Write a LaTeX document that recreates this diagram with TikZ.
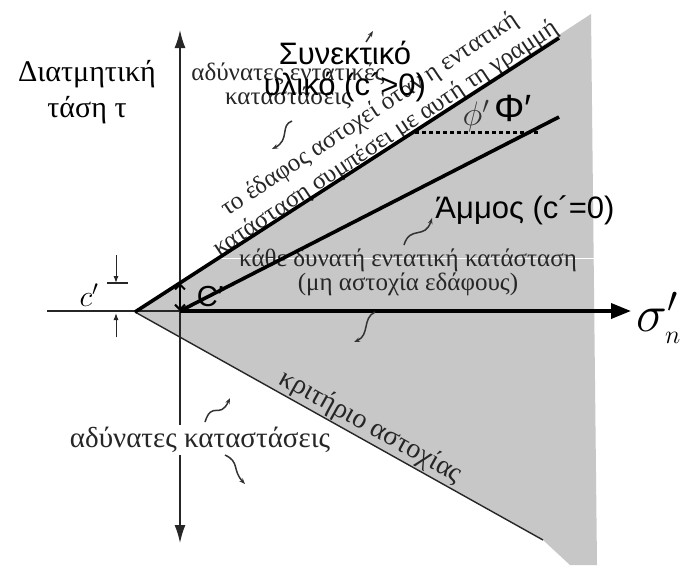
\RequirePackage{fix-cm}
\documentclass[tikz,border=0pt]{standalone}
\usepackage{fontspec}
\setmainfont{Liberation Serif}
\setsansfont{Liberation Sans}
\usetikzlibrary{arrows.meta, calc, positioning}

\begin{document}
\begin{tikzpicture}[
    x=1pt, y=-1pt,
    scan/.style={text=black!85, font=\fontsize{25}{24}\selectfont, inner sep=0pt, align=center},
    marklabel/.style={font=\sffamily\fontsize{31}{31}\selectfont, inner sep=0pt, align=center},
    heavy/.style={line width=3.6pt},
    axisline/.style={black!85, line width=1.6pt},
    pointer/.style={black!80, line width=1.5pt, -{Stealth[length=6pt, width=4.5pt]}}
]
    \useasboundingbox (0,0) rectangle (687,565);
    \fill[white] (0,0) rectangle (687,565);

    % --- Points ---
    \coordinate (apex) at (135,312);
    \coordinate (origin) at (180,311);
    \coordinate (ctop) at (180,283);
    \coordinate (ytop) at (180,30);
    \coordinate (ybot) at (180,543);
    \coordinate (xleft) at (47,311);
    \coordinate (xright) at (631,311);
    \coordinate (cohend) at (559,38);
    \coordinate (sandend) at (559,117);
    \coordinate (critend) at (543,540);

    % --- Region of possible states ---
    \fill[black!22] (apex) -- (591,14) -- (597,565) -- (570,565) -- (critend) -- cycle;
    \draw[white, line width=1pt] (180,258) -- (596,258);

    % --- Axes ---
    \draw[axisline, {Latex[length=18pt, width=11pt]}-{Latex[length=18pt, width=11pt]}] (ybot) -- (ytop);
    \draw[axisline] (xleft) -- (origin);
    \draw[heavy, -{Triangle[length=20pt, width=15pt]}] (origin) -- (xright);
    \node[anchor=west, inner sep=0pt, font=\fontsize{52}{52}\selectfont] (sigma) at (636,318) {$\sigma'_{\scriptscriptstyle n}$};

    \node[font=\fontsize{30}{36}\selectfont, align=center] (taulabel) at (87,92) {Διατμητική\\τάση τ};

    % --- Failure criterion (scan) ---
    \draw[black!85, line width=1.4pt] (apex) -- (critend)
        node[pos=0.56, sloped, above=1pt, scan, font=\fontsize{28}{28}\selectfont] (critlabel) {κριτήριο αστοχίας};
    \node[scan, font=\fontsize{25}{29}\selectfont, rotate=33.5] (failtext) at (378,127) {το έδαφος αστοχεί όταν η εντατική\\κατάσταση συμπέσει με αυτή τη γραμμή};
    \node[scan] (upperstates) at (288,86) {αδύνατες εντατικές\\καταστάσεις};
    \node[scan] (possible) at (408,272) {κάθε δυνατή εντατική κατάσταση\\(μη αστοχία εδάφους)};
    \node[scan, font=\fontsize{29}{29}\selectfont, fill=white, inner sep=2pt] (lowerstates) at (200,440) {αδύνατες καταστάσεις};
    \node[text=black!80, font=\fontsize{34}{34}\selectfont] (phiscan) at (476,116) {$\phi'$};

    % --- Pointers ---
    \coordinate (pa1) at (292,121); \coordinate (pa2) at (272,149);
    \coordinate (pb1) at (205,422); \coordinate (pb2) at (230,398);
    \coordinate (pc1) at (225,455); \coordinate (pc2) at (245,484);
    \coordinate (pd1) at (375,312); \coordinate (pd2) at (354,342);
    \coordinate (pe1) at (404,245); \coordinate (pe2) at (432,218);
    \coordinate (pf1) at (366,42);  \coordinate (pf2) at (373,31);
    \draw[pointer] (pa1) .. controls (280,125) and (290,140) .. (pa2);
    \draw[pointer] (pb1) .. controls (212,400) and (220,420) .. (pb2);
    \draw[pointer] (pc1) .. controls (240,462) and (232,470) .. (pc2);
    \draw[pointer] (pd1) .. controls (362,318) and (370,335) .. (pd2);
    \draw[pointer] (pe1) .. controls (410,225) and (425,240) .. (pe2);
    \draw[pointer] (pf1) -- (pf2);

    % --- c' dimension ---
    \coordinate (cdtop) at (116,255);
    \coordinate (cdtick) at (116,283);
    \coordinate (cdbot) at (116,337);
    \coordinate (cdaxis) at (116,313);
    \draw[black!85, line width=1.2pt] (107,283) -- (128,283);
    \draw[black!85, line width=1pt, -{Latex[length=7pt, width=5pt]}] (cdtop) -- (cdtick);
    \draw[black!85, line width=1pt, -{Latex[length=7pt, width=5pt]}] (cdbot) -- (cdaxis);
    \node[font=\fontsize{30}{30}\selectfont] (cscan) at (89,295) {$c'$};

    % --- Envelopes ---
    \draw[heavy] (apex) -- (cohend);
    \draw[heavy] (origin) -- (sandend);
    \draw[line width=2pt, {Straight Barb[length=5pt, width=10pt]}-{Straight Barb[length=5pt, width=10pt]}] (origin) -- (ctop);
    \draw[line width=3pt, dash pattern=on 4pt off 3pt] (415,132) -- (540,132);

    % --- Labels ---
    \node[marklabel] (cohesive) at (345,72) {Συνεκτικό\\υλικό (c´>0)};
    \node[marklabel] (sand) at (525,210) {Άμμος (c´=0)};
    \node[marklabel, font=\sffamily\fontsize{29}{29}\selectfont] (cprime) at (210,297) {C′};
    \node[marklabel, font=\sffamily\fontsize{38}{38}\selectfont] (phiprime) at (513,108) {Φ′};
\end{tikzpicture}
\end{document}
